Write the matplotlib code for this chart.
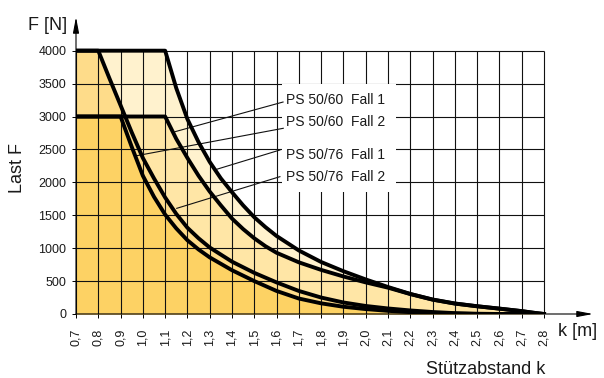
import matplotlib
matplotlib.use("Agg")
import matplotlib.pyplot as plt
from matplotlib.patches import Rectangle

plt.rcParams['font.family'] = ['Liberation Sans', 'DejaVu Sans']

# curve data: support spacing k [m] -> load F [N]
k_6050_1 = [0.7, 1.1, 1.15, 1.2, 1.25, 1.3, 1.35, 1.4, 1.45, 1.5, 1.55, 1.6, 1.7, 1.8, 1.9, 2.0,
            2.1, 2.2, 2.3, 2.4, 2.5, 2.6, 2.7, 2.75, 2.8]
f_6050_1 = [4000, 4000, 3430, 2960, 2610, 2310, 2060, 1850, 1650, 1470, 1320, 1185, 965, 790, 650, 525,
            410, 305, 220, 160, 118, 82, 44, 20, 0]

k_6050_2 = [0.7, 1.1, 1.15, 1.2, 1.25, 1.3, 1.35, 1.4, 1.45, 1.5, 1.55, 1.6, 1.7, 1.8, 1.9, 2.0,
            2.1, 2.2, 2.3, 2.4, 2.5, 2.6, 2.7, 2.75, 2.8]
f_6050_2 = [3000, 3000, 2660, 2370, 2100, 1860, 1650, 1450, 1290, 1150, 1030, 930, 785, 670, 570, 480,
            400, 303, 218, 158, 117, 81, 43, 20, 0]

k_7650_1 = [0.7, 0.8, 0.85, 0.9, 0.95, 1.0, 1.05, 1.1, 1.15, 1.2, 1.25, 1.3, 1.4, 1.5, 1.6, 1.7,
            1.8, 1.9, 2.0, 2.1, 2.2, 2.3, 2.4, 2.5, 2.6, 2.8]
f_7650_1 = [4000, 4000, 3580, 3170, 2760, 2370, 2060, 1770, 1520, 1310, 1150, 1010, 795, 625, 480, 350,
            250, 175, 122, 84, 54, 30, 13, 4, 0, 0]

k_7650_2 = [0.7, 0.9, 0.95, 1.0, 1.05, 1.1, 1.15, 1.2, 1.25, 1.3, 1.4, 1.5, 1.6, 1.7, 1.8,
            1.9, 2.0, 2.1, 2.2, 2.3, 2.4, 2.5, 2.8]
f_7650_2 = [3000, 3000, 2540, 2100, 1780, 1510, 1300, 1120, 980, 860, 665, 500, 350, 235, 162,
            110, 75, 48, 28, 14, 5, 0, 0]

x_ticks = [round(0.7 + 0.1 * i, 1) for i in range(22)]
x_labels = [f"{v:.1f}".replace(".", ",") for v in x_ticks]
y_ticks = [0, 500, 1000, 1500, 2000, 2500, 3000, 3500, 4000]

labels = ["PS 50/60  Fall 1", "PS 50/60  Fall 2", "PS 50/76  Fall 1", "PS 50/76  Fall 2"]
label_y = [3190, 2856, 2350, 2020]
leader_start = [(1.629, 3220), (1.630, 2821), (1.615, 2491), (1.615, 2086)]
leader_end = [(1.144, 2769), (0.965, 2400), (1.331, 2198), (1.152, 1605)]

fills = ["#FFF2CE", "#FFE6A6", "#FEDC8A", "#FDD264"]

fig = plt.figure(figsize=(6.04, 3.78), dpi=100)
ax = fig.add_axes([76 / 604, 64 / 378, 517 / 604, 297 / 378])
ax.set_xlim(0.7, 0.7 + 517 / 222.86)
ax.set_ylim(0, 297 / 65.83 * 1000)

curves = [(k_6050_1, f_6050_1), (k_6050_2, f_6050_2), (k_7650_1, f_7650_1), (k_7650_2, f_7650_2)]
for (k, f), c in zip(curves, fills):
    ax.fill_between(k, 0, f, color=c, lw=0, zorder=1)

# grid only inside the 0.7..2.8 / 0..4000 field
ax.vlines(x_ticks, 0, 4000, color="#111111", lw=0.8, zorder=2)
ax.hlines(y_ticks, 0.7, 2.8, color="#111111", lw=0.8, zorder=2)

# white box behind the curve labels
ax.add_patch(Rectangle((1.624, 1853), 0.512, 1637, facecolor="white", edgecolor="none", zorder=2.5))

for (x0, y0), (x1, y1) in zip(leader_start, leader_end):
    ax.plot([x0, x1], [y0, y1], color="#111111", lw=0.8, zorder=3)
for t, y in zip(labels, label_y):
    ax.text(1.642, y, t, fontsize=10, color="#1a1a1a", va="baseline", ha="left", zorder=4)

for k, f in curves:
    ax.plot(k, f, color="black", lw=2.8, solid_joinstyle="round", zorder=5)

for s in ax.spines.values():
    s.set_visible(False)
arrow = dict(arrowstyle="-|>,head_length=0.95,head_width=0.18", color="black", lw=0.8,
             shrinkA=0, shrinkB=0)
ax.annotate("", xy=(1, 0), xytext=(0, 0), xycoords="axes fraction", arrowprops=arrow)
ax.annotate("", xy=(0, 1), xytext=(0, 0), xycoords="axes fraction", arrowprops=arrow)

ax.set_xticks(x_ticks)
ax.set_xticklabels(x_labels, rotation=90, fontsize=9, color="#1a1a1a")
ax.set_yticks(y_ticks)
ax.set_yticklabels([str(v) for v in y_ticks], fontsize=9, color="#1a1a1a")
ax.tick_params(axis="x", direction="out", length=3, width=0.7, pad=7.5)
ax.tick_params(axis="y", direction="out", length=3, width=0.7, pad=4)

fig.text(67 / 604, 1 - 25 / 378, "F [N]", fontsize=13, ha="right", va="center", color="#1a1a1a")
fig.text(17 / 604, 1 - 168 / 378, "Last F", fontsize=13, rotation=90, ha="center", va="center",
         color="#1a1a1a")
fig.text(558 / 604, 1 - 331 / 378, "k [m]", fontsize=13, ha="left", va="center", color="#1a1a1a")
fig.text(545 / 604, 1 - 369 / 378, "Stützabstand k", fontsize=13, ha="right", va="center",
         color="#1a1a1a")

fig.savefig("out.png", dpi=100)
